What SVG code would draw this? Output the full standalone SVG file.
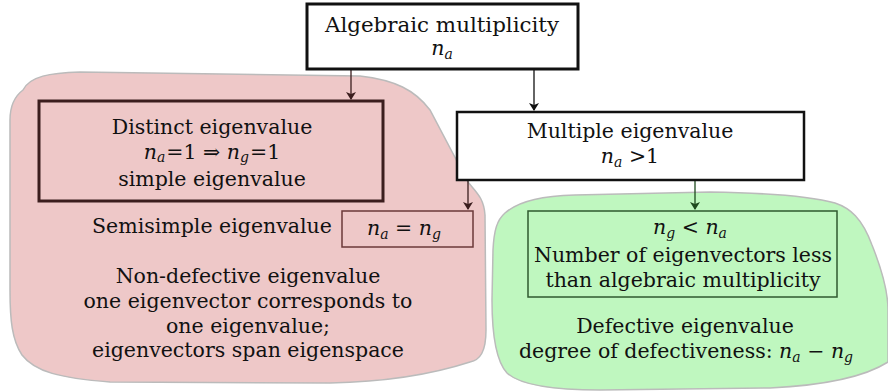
<svg xmlns="http://www.w3.org/2000/svg" width="888" height="392" viewBox="0 0 888 392">
<style>
text{font-family:"DejaVu Serif",serif;font-size:20.5px;fill:#111;text-anchor:middle}
.m{font-style:italic}
.s{font-size:14px;font-style:italic}
</style>
<defs>
<marker id="ak" markerWidth="8" markerHeight="10" refX="7" refY="5" orient="auto" markerUnits="userSpaceOnUse"><path d="M0,0 L8,5 L0,10 L2,5 Z" fill="#111"/></marker>
<marker id="ar" markerWidth="8" markerHeight="10" refX="7" refY="5" orient="auto" markerUnits="userSpaceOnUse"><path d="M0,0 L8,5 L0,10 L2,5 Z" fill="#3b1e1e"/></marker>
<marker id="ag" markerWidth="8" markerHeight="10" refX="7" refY="5" orient="auto" markerUnits="userSpaceOnUse"><path d="M0,0 L8,5 L0,10 L2,5 Z" fill="#1e4a1e"/></marker>
</defs>
<g id="red-region">
<path d="M23,90 C30,76 50,73 80,72 L360,76 C395,80 415,90 430,110 L468,182 C476,192 484,198 485,215 L486,330 C486,352 480,360 470,362 C430,375 380,382 330,383 L110,382 C60,378 35,372 22,355 C12,340 10,320 10,290 L10,120 C10,105 15,96 23,90 Z" fill="#eec8c8" stroke="#bbbbbb" stroke-width="1.5"/>
</g>
<g id="green-region">
<path d="M505,213 C520,200 545,196 575,195 L710,192 C770,193 810,196 835,203 C850,208 862,218 872,245 C882,270 888,290 888,310 L888,362 C860,380 810,386 770,388 L600,390 C550,390 520,385 507,373 C495,360 492,330 492,300 L493,250 C494,230 497,220 505,213 Z" fill="#bff7bf" stroke="#bbbbbb" stroke-width="1.5"/>
</g>
<g id="connectors" fill="none" stroke-width="1.3">
<line x1="351" y1="69" x2="351" y2="99" stroke="#3b1e1e" marker-end="url(#ar)"/>
<line x1="534" y1="69" x2="534" y2="110" stroke="#111" marker-end="url(#ak)"/>
<line x1="468" y1="180" x2="468" y2="209" stroke="#3b1e1e" marker-end="url(#ar)"/>
<line x1="695" y1="180" x2="695" y2="209" stroke="#1e4a1e" marker-end="url(#ag)"/>
</g>
<g id="algebraic">
<rect x="307" y="4" width="271" height="65" fill="#fff" stroke="#111" stroke-width="3"/>
<text x="442" y="32" textLength="234" lengthAdjust="spacingAndGlyphs">Algebraic multiplicity</text>
<text x="442" y="55"><tspan class="m">n</tspan><tspan class="s" dy="4">a</tspan></text>
</g>
<g id="distinct">
<rect x="39" y="101" width="344" height="100" fill="none" stroke="#3b1e1e" stroke-width="3"/>
<text x="212" y="134">Distinct eigenvalue</text>
<text x="212" y="159"><tspan class="m">n</tspan><tspan class="s" dy="3">a</tspan><tspan dy="-3" dx="1">=1 ⇒ </tspan><tspan class="m">n</tspan><tspan class="s" dy="3">g</tspan><tspan dy="-3" dx="1">=1</tspan></text>
<text x="212" y="186">simple eigenvalue</text>
</g>
<g id="multiple">
<rect x="457" y="112" width="347" height="68" fill="#fff" stroke="#111" stroke-width="2.5"/>
<text x="630" y="138">Multiple eigenvalue</text>
<text x="630" y="163"><tspan class="m">n</tspan><tspan class="s" dy="4">a</tspan><tspan dy="-4"> &gt;1</tspan></text>
</g>
<g id="semisimple">
<text x="212" y="233">Semisimple eigenvalue</text>
<rect x="342" y="211" width="131" height="36" fill="none" stroke="#6b3a3a" stroke-width="1.5"/>
<text x="404" y="235"><tspan class="m">n</tspan><tspan class="s" dy="4">a</tspan><tspan dy="-4"> = </tspan><tspan class="m">n</tspan><tspan class="s" dy="4">g</tspan></text>
</g>
<g id="nondefective">
<text x="248" y="283">Non-defective eigenvalue</text>
<text x="248" y="308">one eigenvector corresponds to</text>
<text x="248" y="333">one eigenvalue;</text>
<text x="248" y="357">eigenvectors span eigenspace</text>
</g>
<g id="ng-less">
<rect x="528" y="211" width="309" height="86" fill="none" stroke="#2f5a2f" stroke-width="1.5"/>
<text x="690" y="234"><tspan class="m">n</tspan><tspan class="s" dy="4">g</tspan><tspan dy="-4"> &lt; </tspan><tspan class="m">n</tspan><tspan class="s" dy="4">a</tspan></text>
<text x="683" y="262">Number of eigenvectors less</text>
<text x="683" y="287">than algebraic multiplicity</text>
</g>
<g id="defective">
<text x="685" y="333">Defective eigenvalue</text>
<text x="686" y="358">degree of defectiveness: <tspan class="m">n</tspan><tspan class="s" dy="4">a</tspan><tspan dy="-4"> − </tspan><tspan class="m">n</tspan><tspan class="s" dy="4">g</tspan></text>
</g>
</svg>
